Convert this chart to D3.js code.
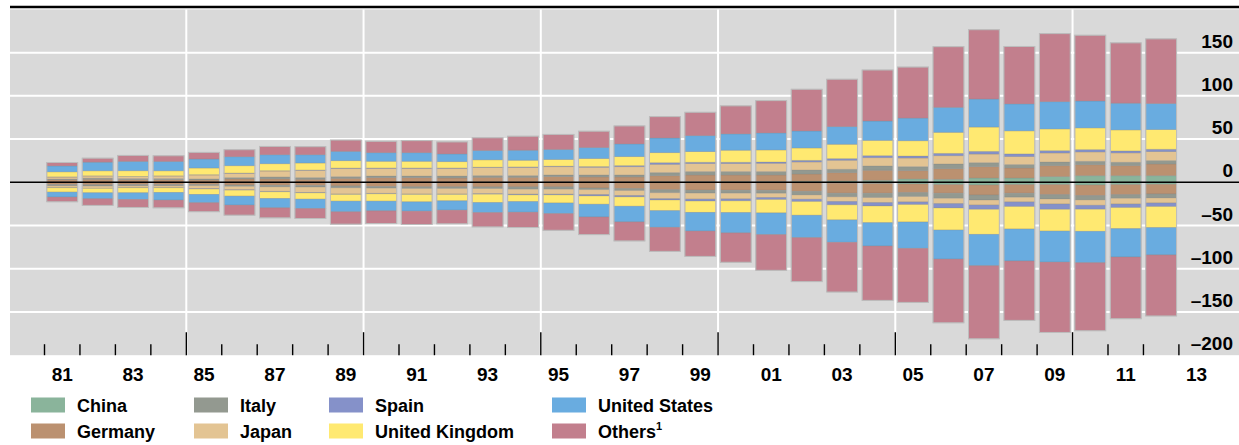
<!DOCTYPE html>
<html><head><meta charset="utf-8">
<script src="https://cdn.jsdelivr.net/npm/d3@7"></script>
<style>html,body{margin:0;padding:0;background:#fff;} svg{display:block;font-family:"Liberation Sans",Arial,sans-serif;}</style>
</head><body><svg id="c" width="1239" height="445"></svg>
<script>
const years = [1981,1982,1983,1984,1985,1986,1987,1988,1989,1990,1991,1992,1993,1994,1995,1996,1997,1998,1999,2000,2001,2002,2003,2004,2005,2006,2007,2008,2009,2010,2011,2012];
const axisYears = [1981,1982,1983,1984,1985,1986,1987,1988,1989,1990,1991,1992,1993,1994,1995,1996,1997,1998,1999,2000,2001,2002,2003,2004,2005,2006,2007,2008,2009,2010,2011,2012,2013];
const majorTickYears = [1985,1990,1995,2000,2005,2010];
const labelYears = [1981,1983,1985,1987,1989,1991,1993,1995,1997,1999,2001,2003,2005,2007,2009,2011,2013];
const tickLabels = ["81","83","85","87","89","91","93","95","97","99","01","03","05","07","09","11","13"];
const yTicks = [150,100,50,0,-50,-100,-150,-200];
const yTickLabels = ["150","100","50","0","\u201350","\u2013100","\u2013150","\u2013200"];
const gridValues = [150,100,50,-50,-100,-150];
const series = ["China","Germany","Italy","Japan","Spain","United Kingdom","United States","Others"];
const colors = ["#8ab49b","#bb9170","#939990","#e3c493","#8591c9","#ffe971","#69ace0","#c27f8d"];

// Gross positions (assets, positive)
const chinaAssets   = [0.2,0.2,0.2,0.2,0.3,0.3,0.3,0.3,0.4,0.4,0.4,0.4,0.5,0.5,0.6,0.6,0.7,0.8,0.9,1.0,1.1,1.3,1.6,2.3,3.9,3.5,5.0,5.0,6.6,7.7,7.7,7.7];
const germanyAssets = [2.8,3.3,2.8,2.8,2.4,3.6,3.6,3.2,4.2,5.0,5.0,4.6,5.3,5.3,6.0,5.6,5.5,6.9,7.6,7.5,7.4,8.3,9.6,11.6,9.6,12.3,13.1,11.6,12.7,12.7,11.6,13.5];
const italyAssets   = [0.8,1.3,1.3,1.3,1.2,1.5,2.3,1.9,1.9,1.9,1.9,2.3,1.9,1.9,1.9,2.3,2.3,3.5,3.9,3.9,3.9,4.6,3.9,5.0,4.6,5.4,4.6,3.9,4.2,3.9,3.9,3.9];
const japanAssets   = [2.3,2.5,2.3,3.0,4.6,5.0,6.9,8.5,9.6,8.9,8.9,8.9,9.3,9.6,9.6,8.9,9.6,9.6,9.3,9.3,9.6,9.3,10.4,9.6,10.0,9.6,10.0,9.3,10.4,10.8,10.8,10.4];
const spainAssets   = [0.2,0.2,0.2,0.2,0.3,0.3,0.3,0.3,0.4,0.4,0.4,0.4,0.5,0.5,0.6,0.8,1.2,1.9,1.5,1.5,1.5,1.9,1.9,2.3,2.3,2.7,3.1,3.1,2.7,2.7,2.3,2.7];
const ukAssets      = [5.8,5.8,6.6,5.8,7.7,8.5,8.1,8.1,8.5,7.7,7.7,7.3,8.5,7.7,7.7,9.3,10.4,11.6,12.3,13.9,13.9,14.3,16.6,17.7,17.7,24.3,28.1,26.6,25.1,25.1,24.3,22.8];
const usAssets      = [6.9,10.0,10.8,10.8,10.4,10.4,10.4,9.6,10.8,10.0,10.0,8.9,10.8,11.6,11.6,12.7,14.7,17.0,18.5,18.9,19.7,19.7,20.4,22.4,26.2,28.9,32.4,31.2,31.6,31.2,30.9,30.1];
const othersAssets  = [3.9,4.6,6.9,6.6,7.7,8.1,9.6,9.3,13.1,13.1,13.9,13.9,14.7,16.2,17.4,18.9,20.8,24.7,27.0,32.4,37.4,48.2,54.8,59.0,59.0,70.2,80.2,66.4,78.7,76.0,69.8,74.8];

// Gross positions (liabilities, negative)
const chinaLiab   = [-0.1,-0.1,-0.1,-0.1,-0.1,-0.2,-0.2,-0.2,-0.2,-0.2,-0.2,-0.2,-0.3,-0.3,-0.3,-0.4,-0.4,-0.5,-0.5,-0.6,-0.7,-0.8,-1.0,-1.5,-1.9,-2.7,-3.1,-2.7,-2.7,-3.1,-2.7,-2.3];
const germanyLiab = [-2.5,-2.8,-2.5,-2.5,-2.5,-3.0,-3.3,-3.5,-4.0,-4.6,-5.0,-5.0,-5.0,-5.0,-5.0,-6.2,-6.9,-8.1,-8.5,-8.5,-8.5,-9.6,-11.6,-11.2,-10.0,-10.0,-11.6,-10.0,-11.6,-12.3,-11.6,-11.2];
const italyLiab   = [-1.5,-1.5,-1.5,-1.5,-1.3,-1.5,-1.8,-1.8,-2.2,-2.0,-2.0,-2.0,-2.0,-2.7,-2.7,-1.9,-2.3,-3.5,-3.5,-3.5,-3.5,-4.2,-4.2,-5.0,-4.6,-5.8,-5.8,-4.6,-5.0,-5.0,-4.2,-4.6];
const japanLiab   = [-2.0,-2.5,-2.0,-2.0,-3.5,-4.0,-5.2,-6.2,-7.2,-6.0,-6.4,-6.4,-6.0,-5.8,-5.8,-5.8,-5.8,-6.9,-6.9,-6.6,-5.0,-5.0,-5.4,-5.8,-6.2,-6.2,-5.8,-5.4,-5.8,-6.2,-6.6,-5.8];
const spainLiab   = [-0.2,-0.2,-0.2,-0.2,-0.4,-0.4,-0.5,-0.5,-0.5,-0.5,-0.5,-0.5,-0.5,-0.8,-0.8,-1.5,-1.5,-1.5,-2.3,-2.3,-2.3,-2.7,-3.9,-3.9,-3.1,-5.0,-5.0,-5.4,-6.2,-4.6,-4.2,-4.2];
const ukLiab      = [-5.0,-5.0,-5.8,-5.4,-6.2,-6.9,-7.7,-7.3,-7.7,-8.5,-8.5,-7.3,-9.6,-7.7,-9.3,-9.6,-10.8,-12.3,-13.1,-13.5,-15.4,-15.8,-17.4,-19.3,-20.1,-25.5,-28.9,-25.9,-25.1,-25.5,-24.3,-24.3];
const usLiab      = [-5.8,-6.9,-7.7,-8.9,-9.6,-10.4,-10.8,-10.8,-12.3,-11.2,-10.8,-10.8,-11.6,-12.3,-12.3,-14.7,-18.1,-19.3,-21.6,-23.5,-25.1,-25.9,-25.9,-27.0,-30.5,-33.6,-36.3,-37.0,-35.9,-36.3,-32.8,-31.6];
const othersLiab  = [-5.4,-7.7,-9.3,-8.9,-10.4,-11.6,-11.6,-11.6,-14.3,-14.7,-15.4,-15.8,-16.6,-17.7,-19.3,-20.4,-22.0,-27.8,-29.3,-34.0,-41.3,-50.9,-57.5,-62.9,-62.5,-73.7,-84.5,-68.7,-81.4,-78.7,-71.4,-70.6];

const assetArrays = [chinaAssets,germanyAssets,italyAssets,japanAssets,spainAssets,ukAssets,usAssets,othersAssets];
const liabArrays  = [chinaLiab,germanyLiab,italyLiab,japanLiab,spainLiab,ukLiab,usLiab,othersLiab];

function table(arrs){
  return years.map((yr,i)=>{const o={year:yr}; series.forEach((s,j)=>o[s]=arrs[j][i]); return o;});
}
const stack = d3.stack().keys(series);
const assetStack = stack(table(assetArrays));
const liabStack = stack(table(liabArrays));

const svg = d3.select("#c");
const W = 1239;
const x = d3.scaleBand().domain(axisYears).range([44.5, 44.5 + 33*35.45]).paddingInner(0.13).paddingOuter(0.065);
const y = d3.scaleLinear().domain([-200, 200]).range([355.2, 9.4]);
const color = d3.scaleOrdinal().domain(series).range(colors);
const half = x.step()*x.paddingInner()/2;
const boundary = yr => x(yr) - half;

const plotLeft = 10;
svg.append("rect").attr("x", plotLeft).attr("y", y(200)).attr("width", W - plotLeft).attr("height", y(-200) - y(200)).attr("fill", "#d9d9d9");

// grid
svg.append("g").selectAll("line").data(gridValues).join("line")
  .attr("x1", plotLeft).attr("x2", W).attr("y1", d=>y(d)).attr("y2", d=>y(d))
  .attr("stroke", "#fff").attr("stroke-width", 2);
svg.append("g").selectAll("line").data(majorTickYears).join("line")
  .attr("x1", d=>boundary(d)).attr("x2", d=>boundary(d)).attr("y1", y(200)).attr("y2", y(-200))
  .attr("stroke", "#fff").attr("stroke-width", 2);

// bars
function drawStack(st){
  const g = svg.append("g");
  g.selectAll("g").data(st).join("g").attr("fill", d=>color(d.key))
    .selectAll("rect").data(d=>d).join("rect")
    .attr("x", d=>x(d.data.year))
    .attr("width", x.bandwidth())
    .attr("y", d=>y(Math.max(d[0], d[1])))
    .attr("height", d=>Math.abs(y(d[0]) - y(d[1])))
    .attr("stroke", "rgba(130,130,130,0.3)").attr("stroke-width", 0.8);
}
drawStack(assetStack);
drawStack(liabStack);

// outline of each bar
const topTot = years.map((yr,i)=>({year:yr, top:assetStack[assetStack.length-1][i][1], bot:liabStack[liabStack.length-1][i][1]}));
svg.append("g").selectAll("rect").data(topTot).join("rect")
  .attr("x", d=>x(d.year)).attr("width", x.bandwidth())
  .attr("y", d=>y(d.top)).attr("height", d=>y(d.bot)-y(d.top))
  .attr("fill", "none").attr("stroke", "#bdbdbd").attr("stroke-width", 1);

// zero line
svg.append("line").attr("x1", plotLeft).attr("x2", W).attr("y1", y(0)).attr("y2", y(0)).attr("stroke", "#000").attr("stroke-width", 1.5);
// top line
svg.append("line").attr("x1", plotLeft).attr("x2", W).attr("y1", 7).attr("y2", 7).attr("stroke", "#000").attr("stroke-width", 2.5);

// x ticks
svg.append("g").selectAll("line").data(axisYears).join("line")
  .attr("x1", d=>boundary(d)).attr("x2", d=>boundary(d))
  .attr("y1", y(-200)).attr("y2", d=>majorTickYears.includes(d) ? y(-200)-23 : y(-200)-11)
  .attr("stroke", "#000").attr("stroke-width", 1.4);

// x labels
svg.append("g").selectAll("text").data(labelYears).join("text")
  .attr("x", d=>x(d) + x.bandwidth()/2).attr("y", 381)
  .attr("text-anchor", "middle").attr("font-size", 19).attr("font-weight", "bold")
  .text((d,i)=>tickLabels[i]);

// y labels
svg.append("g").selectAll("text").data(yTicks).join("text")
  .attr("x", 1233).attr("y", d=>y(d) - 5)
  .attr("text-anchor", "end").attr("font-size", 19).attr("font-weight", "bold")
  .text((d,i)=>yTickLabels[i]);

// legend
const legendCols = [31, 194, 329, 552];
const legendRows = [405, 431];
const lg = svg.append("g").selectAll("g").data(series).join("g")
  .attr("transform", (d,i)=>`translate(${legendCols[Math.floor(i/2)]},${legendRows[i%2]})`);
lg.append("rect").attr("x", 0).attr("y", -7.5).attr("width", 34).attr("height", 15).attr("fill", d=>color(d));
const lt = lg.append("text").attr("x", 46).attr("y", 6.5).attr("font-size", 18).attr("font-weight", "bold");
lt.append("tspan").text(d=>d);
lt.filter(d=>d==="Others").append("tspan").attr("font-size", 11).attr("dy", -8).text("1");
</script></body></html>
